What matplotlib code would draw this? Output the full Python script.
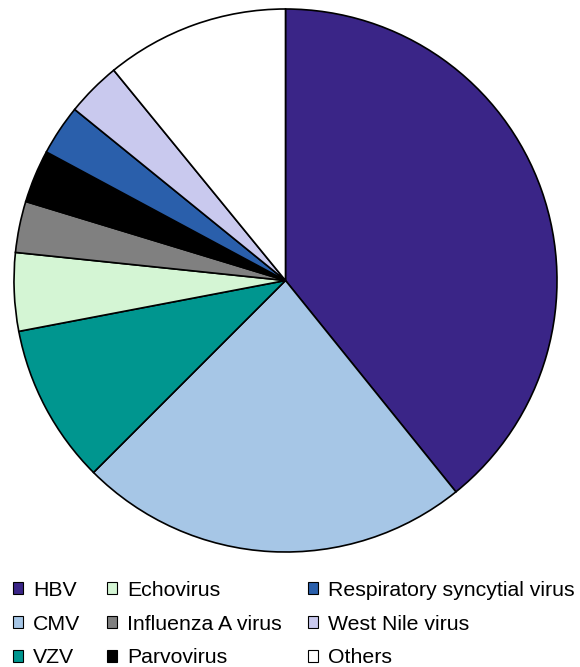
import matplotlib.pyplot as plt

plt.rcParams['font.family'] = ['Liberation Sans', 'DejaVu Sans']

# share of cases per virus (%), clockwise from 12 o'clock
viruses = ['HBV', 'CMV', 'VZV', 'Echovirus', 'Influenza A virus', 'Parvovirus',
           'Respiratory syncytial virus', 'West Nile virus', 'Others']
shares = [39.2, 23.3, 9.5, 4.65, 3.05, 3.15, 3.0, 3.25, 10.9]
colors = ['#3a2587', '#a6c6e6', '#00968f', '#d4f5d4', '#808080', '#000000',
          '#2a5fab', '#c9c9ee', '#ffffff']

fig = plt.figure(figsize=(5.8, 6.67), dpi=100)
r = 271.5
ax = fig.add_axes([(285.5 - r * 1.02) / 580, (667 - 280.5 - r * 1.02) / 667,
                   2 * r * 1.02 / 580, 2 * r * 1.02 / 667])

wedges, _ = ax.pie(shares, colors=colors, startangle=90, counterclock=False,
                   wedgeprops=dict(edgecolor='black', linewidth=1.2))
ax.set_xlim(-1.02, 1.02)
ax.set_ylim(-1.02, 1.02)
ax.set_aspect('equal')

handles = [plt.Rectangle((0, 0), 1, 1, facecolor=c, edgecolor='black', linewidth=0.8)
           for c in colors]
fig.legend(handles, viruses, ncol=3, loc='upper left',
           bbox_to_anchor=(13 / 580, 0.1294), frameon=False, fontsize=15.3,
           handlelength=0.47, handleheight=0.47, handletextpad=0.47,
           labelspacing=0.70, columnspacing=1.25, borderaxespad=0, borderpad=0)

fig.savefig('out.png', dpi=100)
